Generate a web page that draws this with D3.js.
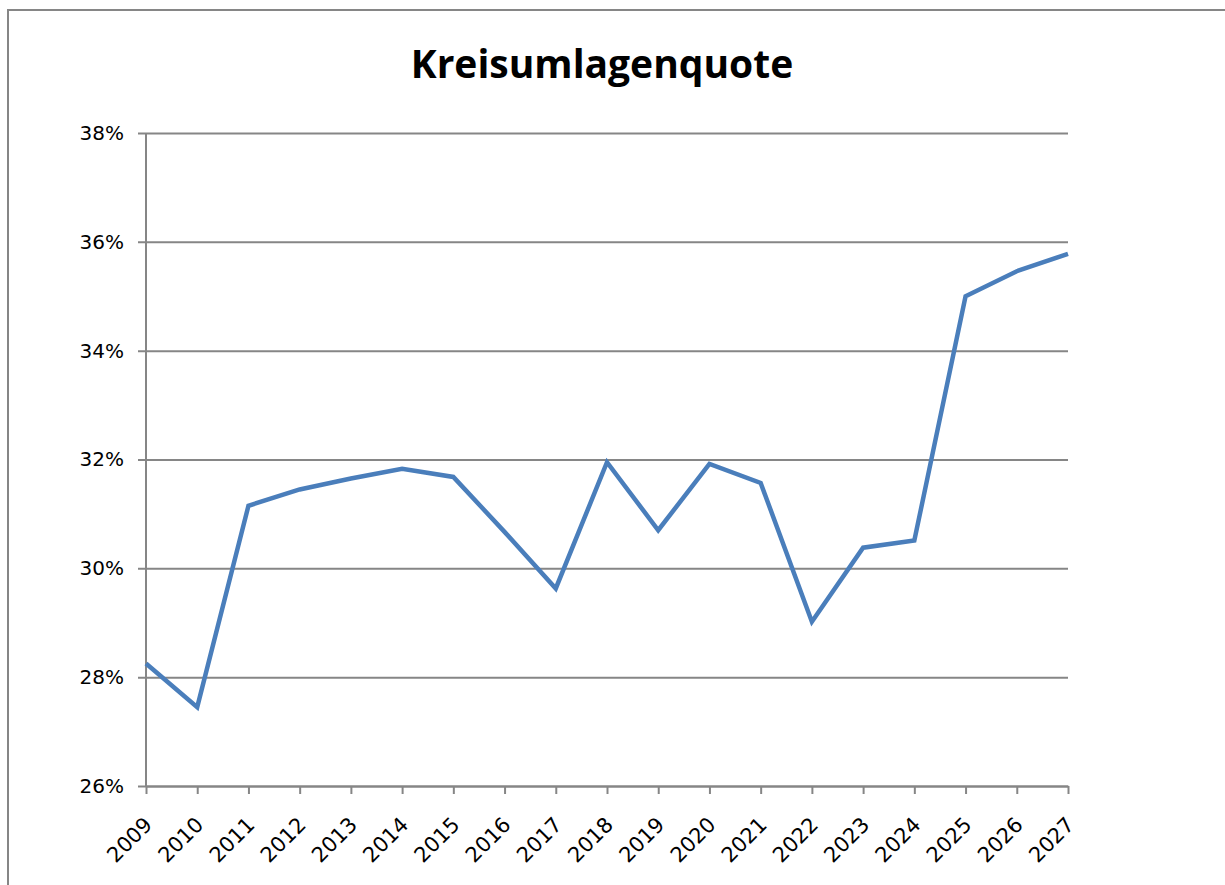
<!DOCTYPE html>
<html>
<head>
<meta charset="utf-8">
<script src="https://cdn.jsdelivr.net/npm/d3@7"></script>
<style>
  body { margin: 0; background: #fff; }
  svg { display: block; }
</style>
</head>
<body>
<div id="chart"></div>
<script>
var title = "Kreisumlagenquote";
var years = ["2009", "2010", "2011", "2012", "2013", "2014", "2015", "2016", "2017", "2018",
             "2019", "2020", "2021", "2022", "2023", "2024", "2025", "2026", "2027"];
var quote = [28.25, 27.45, 31.15, 31.45, 31.65, 31.83, 31.68, 30.67, 29.63, 31.95,
             30.70, 31.92, 31.57, 29.02, 30.38, 30.51, 35.00, 35.46, 35.78];
var yTicks = [26, 28, 30, 32, 34, 36, 38];

var W = 1225, H = 885,
    margin = {top: 133, right: 157, bottom: 99, left: 146},
    width = W - margin.left - margin.right,
    height = H - margin.top - margin.bottom,
    axisColor = "#868686";

var svg = d3.select("#chart").append("svg")
    .attr("width", W)
    .attr("height", H);

// outer chart frame (runs off the right and bottom edge)
svg.append("rect")
    .attr("x", 8).attr("y", 10)
    .attr("width", W + 20).attr("height", H + 20)
    .attr("fill", "none")
    .attr("stroke", axisColor)
    .attr("stroke-width", 2);

svg.append("text")
    .attr("x", 602).attr("y", 78)
    .attr("text-anchor", "middle")
    .style("font-family", "'Open Sans', sans-serif")
    .style("font-weight", "bold")
    .style("font-size", "39px")
    .text(title);

var x = d3.scalePoint().domain(years).range([0, width]);
var y = d3.scaleLinear().domain([26, 38]).range([height, 0]);

var g = svg.append("g")
    .attr("transform", "translate(" + margin.left + "," + margin.top + ")");

// gridlines + left ticks
g.append("g")
    .call(d3.axisLeft(y).tickValues(yTicks).tickSize(-width).tickPadding(22)
        .tickFormat(function(d) { return d + "%"; }))
    .call(function(a) {
        a.select(".domain").remove();
        a.attr("font-size", null).attr("font-family", null);
        a.selectAll(".tick line").attr("x1", -8)
            .attr("stroke", axisColor).attr("stroke-width", 2);
        a.selectAll(".tick text")
            .style("font-family", "'DejaVu Sans', sans-serif")
            .style("font-size", "20px")
            .attr("fill", "#000");
    });

// y axis line
g.append("line")
    .attr("x1", 0).attr("x2", 0)
    .attr("y1", 0).attr("y2", height)
    .attr("stroke", axisColor).attr("stroke-width", 2);

// x axis
g.append("g")
    .attr("transform", "translate(0," + height + ")")
    .call(d3.axisBottom(x).tickSize(8).tickSizeOuter(0))
    .call(function(a) {
        a.attr("font-size", null).attr("font-family", null);
        a.select(".domain").attr("stroke", axisColor).attr("stroke-width", 2);
        a.selectAll(".tick line").attr("stroke", axisColor).attr("stroke-width", 2);
        a.selectAll(".tick text")
            .style("font-family", "'DejaVu Sans', sans-serif")
            .style("font-size", "21px")
            .attr("fill", "#000")
            .attr("text-anchor", "end")
            .attr("dy", null)
            .attr("x", 0)
            .attr("y", 0)
            .attr("transform", "translate(7,40) rotate(-45)");
    });

var line = d3.line()
    .x(function(d, i) { return x(years[i]); })
    .y(function(d) { return y(d); });

g.append("path")
    .datum(quote)
    .attr("d", line)
    .attr("fill", "none")
    .attr("stroke", "#4a7ebb")
    .attr("stroke-width", 4.5)
    .attr("stroke-linejoin", "miter");
</script>
</body>
</html>
